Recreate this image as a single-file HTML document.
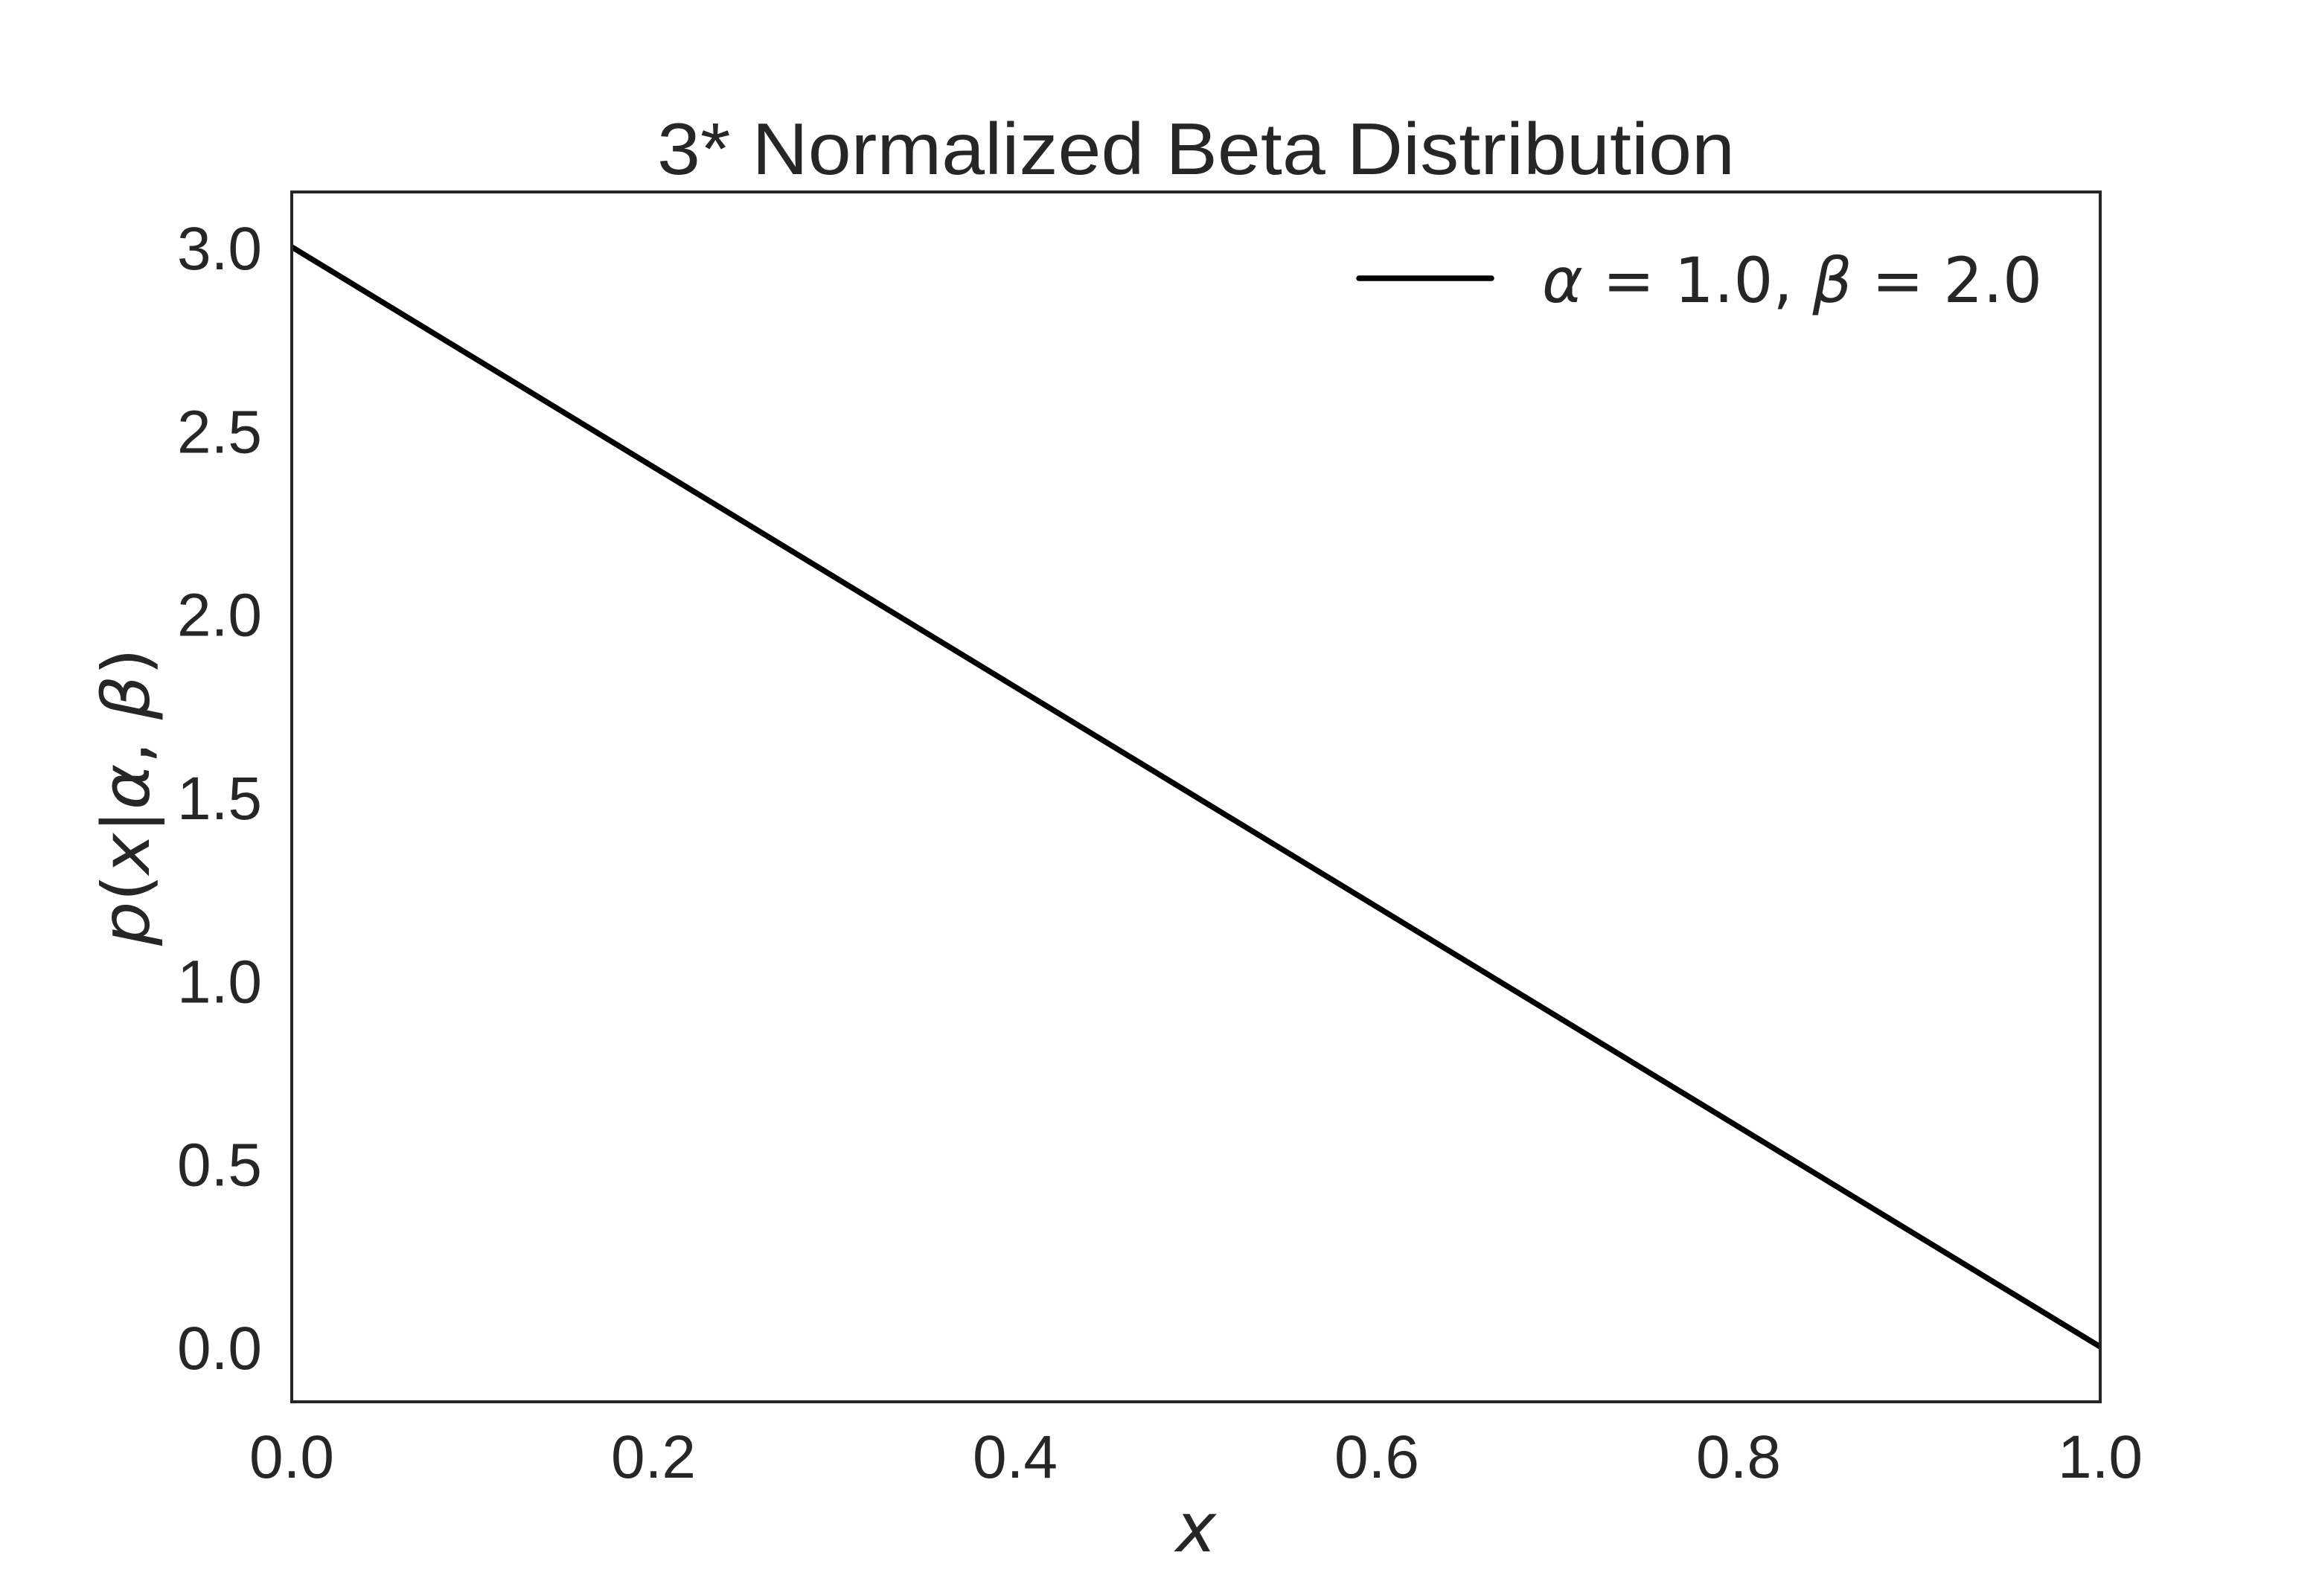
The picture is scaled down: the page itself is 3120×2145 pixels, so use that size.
<!DOCTYPE html>
<html><head><meta charset="utf-8"><style>html,body{margin:0;padding:0;background:#fff}svg{display:block}</style></head>
<body>
<svg id="chart" width="3120" height="2145" viewBox="0 0 3120 2145" xmlns="http://www.w3.org/2000/svg">
<rect width="3120" height="2145" fill="#fff"/>
<text x="1607" y="234" text-anchor="middle" font-family="Liberation Sans, sans-serif" font-size="98" fill="#262626" textLength="1448" lengthAdjust="spacingAndGlyphs">3* Normalized Beta Distribution</text>
<g id="ticks"></g>
<polyline id="series" fill="none" stroke="#000" stroke-width="7.5" stroke-linecap="butt"/>
<rect x="392" y="258" width="2430" height="1626" fill="none" stroke="#262626" stroke-width="4"/>
<text x="1607" y="2085" text-anchor="middle" font-family="DejaVu Sans, sans-serif" font-style="italic" font-size="92" fill="#262626">x</text>
<text transform="translate(200,1071) rotate(-90)" text-anchor="middle" font-family="DejaVu Sans, sans-serif" font-size="88" fill="#262626" textLength="400" lengthAdjust="spacingAndGlyphs"><tspan font-style="italic">p</tspan>(<tspan font-style="italic">x</tspan>|<tspan font-style="italic">α</tspan>, <tspan font-style="italic">β</tspan>)</text>
<g>
<line x1="1826" y1="374" x2="2004" y2="374" stroke="#000" stroke-width="7.5" stroke-linecap="round"/>
<text x="2072" y="406" font-family="DejaVu Sans, sans-serif" font-size="84" fill="#262626" textLength="672" lengthAdjust="spacingAndGlyphs"><tspan font-style="italic">α</tspan> = 1.0,  <tspan font-style="italic">β</tspan> = 2.0</text>
</g>
</svg>
<script>
const xValues = [0, 0.25, 0.5, 0.75, 1.0];
const yValues = [3.0, 2.25, 1.5, 0.75, 0.0];
const xTicks = [0, 0.2, 0.4, 0.6, 0.8, 1.0];
const xTickLabels = ["0.0","0.2","0.4","0.6","0.8","1.0"];
const yTicks = [0, 0.5, 1.0, 1.5, 2.0, 2.5, 3.0];
const yTickLabels = ["0.0","0.5","1.0","1.5","2.0","2.5","3.0"];
const X0=392,X1=2822,Y0=258,Y1=1884, xmin=0,xmax=1,ymin=-0.15,ymax=3.15;
function sx(v){return X0+(v-xmin)/(xmax-xmin)*(X1-X0);}
function sy(v){return Y1-(v-ymin)/(ymax-ymin)*(Y1-Y0);}
const NS="http://www.w3.org/2000/svg";
const line=document.getElementById('series');
line.setAttribute('points', xValues.map((x,i)=>sx(x)+','+sy(yValues[i])).join(' '));
const g=document.getElementById('ticks');
xTicks.forEach((t,i)=>{
  const el=document.createElementNS(NS,'text');
  
  
  el.setAttribute('x',sx(t)); el.setAttribute('y',1986);
  el.setAttribute('text-anchor','middle');
  el.setAttribute('font-family','Liberation Sans, sans-serif');
  el.setAttribute('font-size','82'); el.setAttribute('fill','#262626');
  el.textContent=xTickLabels[i]; g.appendChild(el);
});
yTicks.forEach((t,i)=>{
  const el=document.createElementNS(NS,'text');
  
  
  el.setAttribute('x',352); el.setAttribute('y',sy(t)+30);
  el.setAttribute('text-anchor','end');
  el.setAttribute('font-family','Liberation Sans, sans-serif');
  el.setAttribute('font-size','82'); el.setAttribute('fill','#262626');
  el.textContent=yTickLabels[i]; g.appendChild(el);
});
</script>
</body></html>
